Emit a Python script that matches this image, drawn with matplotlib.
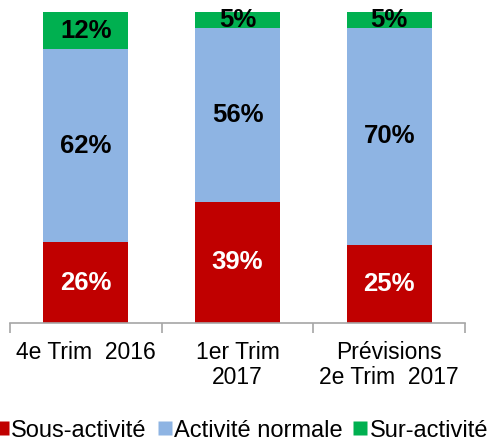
import matplotlib
matplotlib.use("Agg")
import matplotlib.pyplot as plt
from matplotlib.lines import Line2D
import numpy as np

plt.rcParams['font.family'] = ['Liberation Sans', 'DejaVu Sans']

categories = ["4e Trim  2016", "1er Trim\n2017", "Prévisions\n2e Trim  2017"]
series_names = ["Sous-activité", "Activité normale", "Sur-activité"]
sous = [26, 39, 25]
normale = [62, 56, 70]
sur = [12, 5, 5]
colors = ["#C00000", "#8EB4E3", "#00B050"]
text_colors = ["white", "black", "black"]

fig = plt.figure(figsize=(4.88, 4.42), dpi=100)
ax = fig.add_axes([10/488, (442-323)/442, 455/488, 311/442])

x = np.arange(len(categories))
bottom = np.zeros(len(categories))
for vals, col, tc in zip([sous, normale, sur], colors, text_colors):
    vals = np.array(vals, dtype=float)
    ax.bar(x, vals, width=0.56, bottom=bottom, color=col, edgecolor='none')
    for xi, b, v in zip(x, bottom, vals):
        ax.text(xi, b + v/2, f"{int(v)}%", ha='center', va='center',
                fontsize=18.5, fontweight='bold', color=tc)
    bottom += vals

ax.set_xlim(-0.5, 2.5)
ax.set_ylim(0, 100)
for s in ['top', 'right', 'left']:
    ax.spines[s].set_visible(False)
ax.spines['bottom'].set_color('#A6A6A6')
ax.spines['bottom'].set_linewidth(1.2)
ax.set_yticks([])
ax.set_xticks(x)
ax.set_xticklabels(categories, fontsize=16.5, linespacing=1.1)
ax.tick_params(axis='x', which='major', length=0, pad=13)
ax.set_xticks([-0.5, 0.5, 1.5, 2.5], minor=True)
ax.tick_params(axis='x', which='minor', length=7, width=1.2, color='#A6A6A6', direction='out')

handles = [Line2D([0], [0], marker='s', color='none', markerfacecolor=c,
                  markeredgecolor='none', markersize=10) for c in colors]
fig.legend(handles, series_names, loc='center', bbox_to_anchor=(0.495, 0.026),
           ncol=3, frameon=False, fontsize=17, handlelength=0.6,
           handletextpad=0.1, columnspacing=0.45, borderaxespad=0)

fig.savefig("out.png", dpi=100)
